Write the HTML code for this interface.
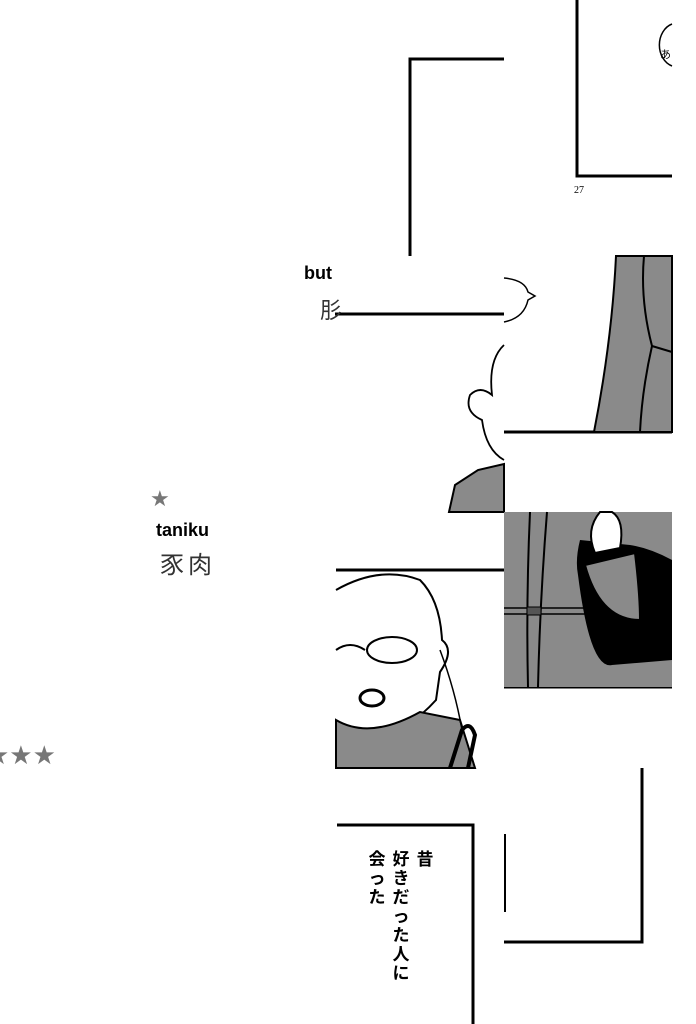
<!DOCTYPE html>
<html><head><meta charset="utf-8"><style>
html,body{margin:0;padding:0;background:#fff;width:696px;height:1024px;overflow:hidden}
svg{display:block}
.jp{font-family:"Liberation Sans","Noto Sans CJK JP",sans-serif}
</style></head><body>
<svg width="696" height="1024" viewBox="0 0 696 1024" xmlns="http://www.w3.org/2000/svg">
<rect width="696" height="1024" fill="#fff"/>
<g stroke="#000" stroke-width="3" fill="none">
<polyline points="577,0 577,176 672,176"/>
<polyline points="410,256 410,59 504,59"/>
<line x1="335" y1="314" x2="504" y2="314"/>
<line x1="504" y1="432" x2="672" y2="432"/>
<line x1="336" y1="570" x2="504" y2="570"/>
<line x1="504" y1="687" x2="672" y2="687"/>
<polyline points="337,825 473,825 473,1024"/>
<polyline points="642,768 642,942 504,942"/>
<line x1="505" y1="834" x2="505" y2="912" stroke-width="2"/>
</g>
<path d="M672,24 A18,22 0 0 0 672,66" stroke="#000" stroke-width="1.5" fill="none"/>
<text x="660" y="58" font-size="11" class="jp">あ</text>
<text x="574" y="193" font-size="10" font-family="Liberation Serif">27</text>
<path d="M504,278 Q525,280 528,292 L535,296 L528,300 Q524,318 504,322" stroke="#000" stroke-width="1.5" fill="#fff"/>
<svg x="300" y="256" width="36" height="40"><text x="4" y="23" font-size="18" font-weight="bold" font-family="Liberation Sans">but</text></svg>
<text x="320" y="318" font-size="22" class="jp" fill="#333">肜</text>
<text x="150" y="506" font-size="22" fill="#777">★</text>
<text x="156" y="536" font-size="18" font-weight="bold" font-family="Liberation Sans">taniku</text>
<text x="160" y="573" font-size="24" class="jp" fill="#333" letter-spacing="4">豕肉</text>
<text x="-14" y="764" font-size="26" fill="#777">★★★</text>
<path d="M616,256 L672,256 L672,432 L594,432 Q612,340 616,256Z" fill="#8a8a8a" stroke="#000" stroke-width="2"/>
<path d="M644,256 Q640,300 652,346 Q642,390 640,432" stroke="#000" stroke-width="2" fill="none"/>
<path d="M652,346 L672,352" stroke="#000" stroke-width="2"/>
<path d="M504,345 Q488,360 492,395 Q480,385 470,395 Q464,412 482,420 Q486,450 504,460" stroke="#000" stroke-width="1.8" fill="none"/>
<path d="M449,512 L455,485 L478,470 L504,464 L504,512Z" fill="#8a8a8a" stroke="#000" stroke-width="2"/>
<rect x="504" y="512" width="168" height="175" fill="#8a8a8a"/>
<path d="M530,512 Q526,600 528,687 M547,512 Q540,600 538,687" stroke="#000" stroke-width="2" fill="none"/>
<path d="M504,608 L650,608 M504,614 L650,614" stroke="#000" stroke-width="1.5"/>
<rect x="527" y="607" width="14" height="8" fill="#555" stroke="#000"/>
<path d="M580,540 Q575,560 578,575 Q590,670 612,665 L672,660 L672,560 Q650,548 630,545 Z" fill="#000"/>
<path d="M600,512 Q585,530 595,553 L620,548 Q625,520 612,512Z" fill="#fff" stroke="#000" stroke-width="2"/>
<path d="M585,565 L635,553 Q640,595 640,620 Q600,620 585,565Z" fill="#8a8a8a" stroke="#000" stroke-width="2"/>
<path d="M336,590 Q380,565 420,580 Q440,600 442,640 Q455,650 440,672 L436,700 Q400,740 360,735 L336,735" stroke="#000" stroke-width="2" fill="none"/>
<ellipse cx="392" cy="650" rx="25" ry="13" stroke="#000" stroke-width="2" fill="none"/>
<path d="M336,650 Q350,640 365,650" stroke="#000" stroke-width="2" fill="none"/>
<ellipse cx="372" cy="698" rx="12" ry="8" stroke="#000" stroke-width="3" fill="#fff"/>
<path d="M336,720 Q370,740 420,712 L460,720 L475,768 L336,768Z" fill="#8a8a8a" stroke="#000" stroke-width="2"/>
<path d="M450,768 L462,730 Q470,720 475,735 L468,768" stroke="#000" stroke-width="4" fill="none"/>
<path d="M440,650 Q455,690 462,730" stroke="#000" stroke-width="1.5" fill="none"/>
<g class="jp" font-size="17" font-weight="bold" fill="#000" text-anchor="middle">
<text x="425" y="865">昔</text>
<text x="401" y="865">好</text><text x="401" y="884">き</text><text x="401" y="903">だ</text><text x="401" y="922">っ</text><text x="401" y="941">た</text><text x="401" y="960">人</text><text x="401" y="979">に</text>
<text x="377" y="865">会</text><text x="377" y="884">っ</text><text x="377" y="903">た</text>
</g>
</svg>
</body></html>
